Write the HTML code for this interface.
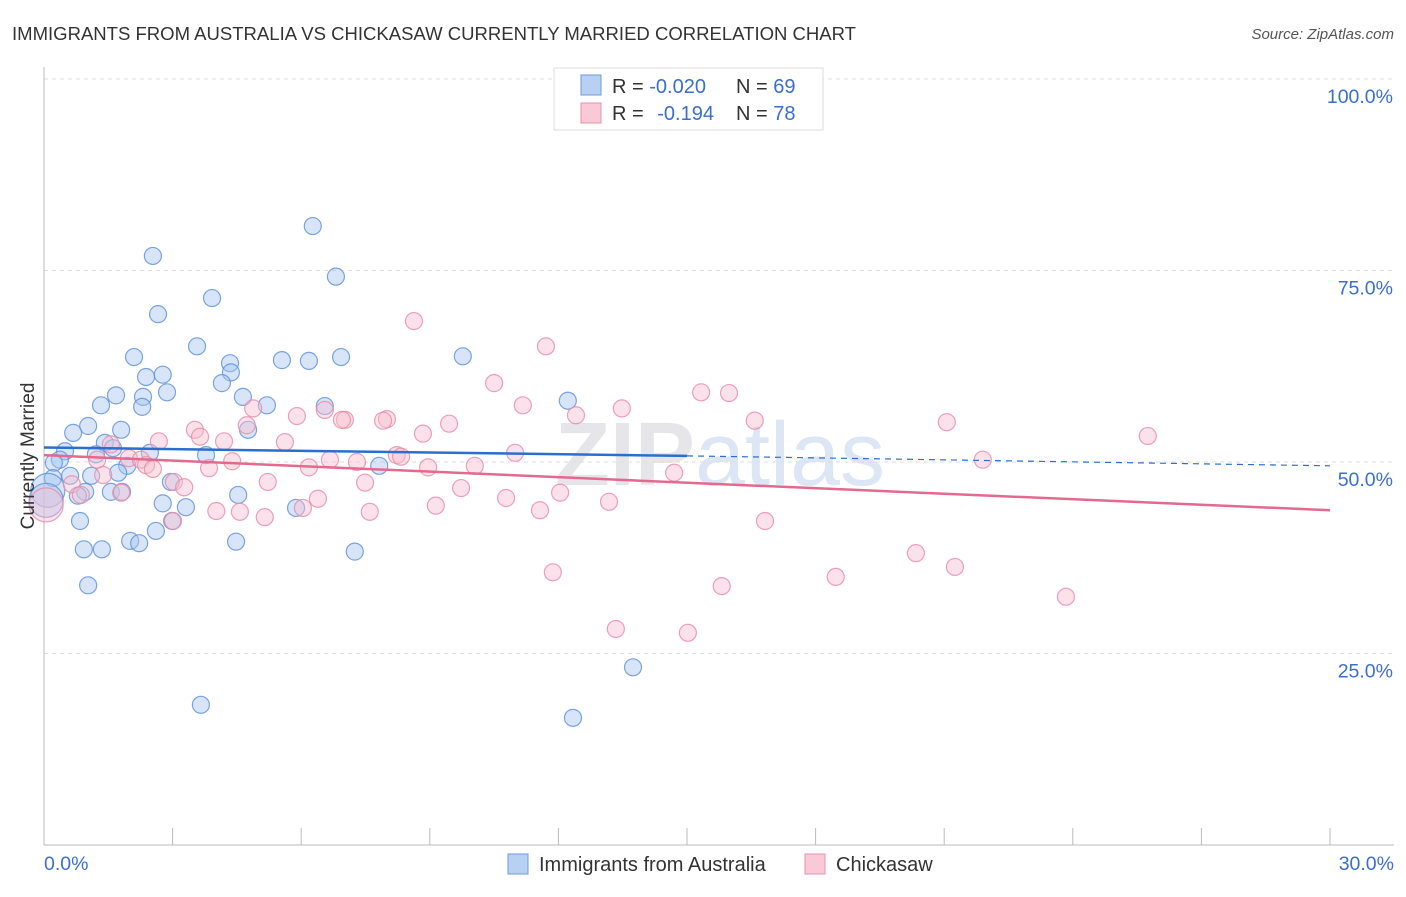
<!DOCTYPE html>
<html><head><meta charset="utf-8">
<style>
body{margin:0;background:#fff;font-family:"Liberation Sans",sans-serif;}
svg text{font-family:"Liberation Sans",sans-serif;}
</style></head>
<body>
<svg id="chart" width="1406" height="892" xmlns="http://www.w3.org/2000/svg">
<text x="12" y="40" font-size="18" fill="#333" textLength="844" lengthAdjust="spacingAndGlyphs">IMMIGRANTS FROM AUSTRALIA VS CHICKASAW CURRENTLY MARRIED CORRELATION CHART</text>
<text x="1394" y="39" font-size="15" fill="#555" font-style="italic" text-anchor="end">Source: ZipAtlas.com</text>
<text x="720" y="485" font-size="90" fill="#e6e6ea" text-anchor="middle" font-weight="bold">ZIP<tspan fill="#dde6f4" font-weight="normal">atlas</tspan></text>
<g id="grid"></g>
<g id="axes"></g>
<g id="pts"></g>
<g id="lines"></g>
<text transform="translate(34,456) rotate(-90)" font-size="19" fill="#333" text-anchor="middle">Currently Married</text>
<g>
<rect x="554" y="68" width="269" height="62" fill="#fff" stroke="#ddd"/>
<rect x="581" y="75" width="20" height="20" fill="#b8d0f2" stroke="#6e9be0"/>
<rect x="581" y="103" width="20" height="20" fill="#f9c9d7" stroke="#e890ab"/>
<text x="612" y="93" font-size="20" fill="#333">R = <tspan fill="#3a6fd0">-0.020</tspan></text>
<text x="736" y="93" font-size="20" fill="#333">N = <tspan fill="#3a6fd0">69</tspan></text>
<text x="612" y="120" font-size="20" fill="#333">R = <tspan fill="#3a6fd0" dx="8">-0.194</tspan></text>
<text x="736" y="120" font-size="20" fill="#333">N = <tspan fill="#3a6fd0">78</tspan></text>
</g>
<g>
<rect x="508" y="854" width="20" height="20" fill="#b8d0f2" stroke="#6e9be0"/>
<text x="539" y="871" font-size="20" fill="#333">Immigrants from Australia</text>
<rect x="805" y="854" width="20" height="20" fill="#f9c9d7" stroke="#e890ab"/>
<text x="836" y="871" font-size="20" fill="#333">Chickasaw</text>
</g>
</svg>
<script>
const yTicks=[25,50,75,100];
const yTickLabels=["25.0%","50.0%","75.0%","100.0%"];
const xTickValues=[0,3,6,9,12,15,18,21,24,27,30];
const blueX=[6.27,2.54,6.81,3.92,2.66,3.57,2.10,5.55,6.18,6.93,9.77,4.34,4.36,2.38,2.77,4.15,2.87,1.68,2.31,4.64,1.33,2.29,5.20,6.55,12.22,1.03,0.68,1.80,4.76,1.42,1.61,0.49,1.21,2.47,3.78,0.37,0.23,1.94,7.82,1.73,0.61,1.10,0.21,2.96,0.09,0.96,1.56,1.82,0.79,4.53,2.77,3.31,5.88,0.05,0.84,2.99,2.61,2.01,2.22,4.48,0.93,1.35,7.25,1.03,13.74,3.66,12.34];
const blueY=[80.8,76.9,74.2,71.4,69.3,65.1,63.7,63.3,63.2,63.7,63.8,62.9,61.7,61.1,61.4,60.3,59.1,58.7,58.5,58.5,57.4,57.2,57.4,57.3,58.0,54.7,53.8,54.2,54.2,52.5,51.8,51.4,51.0,51.2,50.9,50.3,49.9,49.5,49.5,48.6,48.2,48.2,47.9,47.4,46.3,46.1,46.1,46.1,45.6,45.7,44.6,44.1,44.0,45.0,42.3,42.3,41.0,39.7,39.4,39.6,38.6,38.6,38.3,33.9,23.2,18.3,16.6];
const pinkX=[8.63,11.71,10.50,15.33,15.98,11.17,13.48,4.88,5.90,6.55,12.41,7.02,6.95,8.00,7.91,9.45,16.58,21.06,25.75,3.52,4.73,8.84,3.64,2.68,4.20,5.62,1.56,10.99,8.23,8.33,1.24,1.98,2.26,4.39,6.67,7.30,21.90,2.38,6.18,8.96,10.05,2.54,3.85,14.70,1.38,5.22,7.49,0.65,3.03,3.27,9.73,12.04,0.86,1.80,6.39,10.78,13.18,9.14,6.04,4.02,4.57,7.60,11.57,5.15,3.01,16.82,0.05,20.34,21.25,11.87,18.47,15.81,23.84,13.34,15.02];
const pinkY=[68.4,65.1,60.3,59.1,59.0,57.4,57.0,57.0,56.0,56.8,56.1,55.5,55.5,55.6,55.4,55.0,55.4,55.2,53.4,54.2,54.8,53.7,53.3,52.7,52.7,52.6,52.3,51.2,50.9,50.7,50.3,50.5,50.3,50.1,50.3,50.0,50.3,49.6,49.3,49.3,49.5,49.1,49.2,48.6,48.3,47.4,47.3,47.1,47.4,46.7,46.6,46.0,45.7,46.0,45.2,45.3,44.8,44.3,44.0,43.6,43.5,43.5,43.7,42.8,42.3,42.3,44.4,38.1,36.3,35.6,35.0,33.8,32.4,28.2,27.7];
const blueTrend=[51.9,50.8,49.5];
const pinkTrend=[50.9,43.7];
const NS="http://www.w3.org/2000/svg";
const X=v=>44+v*(1330-44)/30;
const Y=v=>845-v*(845-79)/100;
function mk(t,a,p){const e=document.createElementNS(NS,t);for(const k in a)e.setAttribute(k,a[k]);p.appendChild(e);return e;}
const grid=document.getElementById('grid'),axes=document.getElementById('axes'),pts=document.getElementById('pts'),lines=document.getElementById('lines');
yTicks.forEach((v,i)=>{
 const g=mk('line',{x1:44,x2:1394,y1:Y(v),y2:Y(v),stroke:'#ddd','stroke-dasharray':'4,4'},grid);
 
 
 const t=mk('text',{x:1393,y:Y(v)+24,'font-size':19.5,fill:'#3a6fd0','text-anchor':'end'},axes);
 t.textContent=yTickLabels[i];
 
 
});
const a1=mk('line',{x1:44,x2:44,y1:67,y2:845,stroke:'#bbb'},axes);


const a2=mk('line',{x1:44,x2:1394,y1:845,y2:845,stroke:'#bbb'},axes);


xTickValues.forEach(v=>{
 const l=mk('line',{x1:X(v),x2:X(v),y1:828,y2:845,stroke:'#bbb'},axes);
 
 
});
const xl0=mk('text',{x:44,y:870,'font-size':19.5,fill:'#3a6fd0'},axes);xl0.textContent='0.0%';


const xl1=mk('text',{x:1394,y:870,'font-size':19.5,fill:'#3a6fd0','text-anchor':'end'},axes);xl1.textContent='30.0%';


function dots(xs,ys,fill,stroke,name){
 xs.forEach((x,i)=>{
  const big=x<0.1;
  const c=mk('circle',{cx:X(x),cy:Y(ys[i]),r:big?17:8.5,fill:fill,'fill-opacity':0.45,stroke:stroke,'stroke-width':1.2,'stroke-opacity':0.8},pts);
  
  
 });
}
dots(blueX,blueY,'#a9c6f0','#5b8fdc','australia-point');
dots(pinkX,pinkY,'#f7bfd0','#e889a6','chickasaw-point');
const b1=mk('line',{x1:X(0),y1:Y(blueTrend[0]),x2:X(15),y2:Y(blueTrend[1]),stroke:'#2a6fd0','stroke-width':2.5},lines);


const b2=mk('line',{x1:X(15),y1:Y(blueTrend[1]),x2:X(30),y2:Y(blueTrend[2]),stroke:'#2a6fd0','stroke-width':1.2,'stroke-dasharray':'6,5'},lines);


const p1=mk('line',{x1:X(0),y1:Y(pinkTrend[0]),x2:X(30),y2:Y(pinkTrend[1]),stroke:'#e5698f','stroke-width':2.5},lines);


</script>
</body></html>
